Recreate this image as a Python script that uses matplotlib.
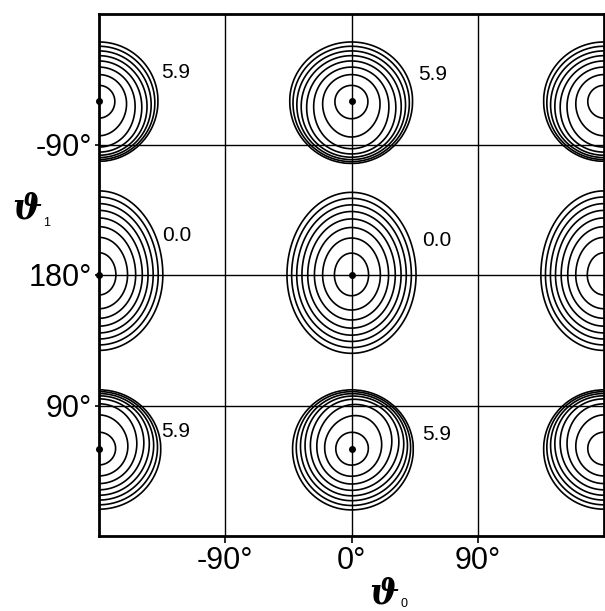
import numpy as np
import matplotlib
matplotlib.use('Agg')
import matplotlib.pyplot as plt

# ---- data ----
# positions of the minima (theta0, theta1) in degrees
min_t0 = [0, 0, 0, -180, -180, -180, 180, 180, 180]
min_t1 = [300, 180, 60, 300, 180, 60, 300, 180, 60]
# half extents of the outermost contour around each minimum (deg)
ext_left = [44, 46, 42, 42, 45, 44, 43, 45, 43]
ext_right = [43.5, 46, 44, 42, 45.5, 44, 43, 45, 43]
ext_down = [43, 54, 42, 41.5, 52, 41.5, 41.5, 52, 41.5]
ext_up = [40.7, 57, 40.7, 40.7, 58, 40.7, 40.7, 58, 40.7]
# direction (deg) towards which the outer contours crowd, and how strongly
crowd_dir = [-90, 90, 70, -90, 90, 90, -90, 90, 90]
crowd_amt = [0.45, 0.0, 0.45, 0.45, 0.0, 0.45, 0.45, 0.0, 0.45]
# contour levels (relative)
levels = [0.07, 0.20, 0.33, 0.46, 0.59, 0.72, 0.86, 1.0]
# energy labels
label_text = ['5.9', '0.0', '5.9', '5.9', '0.0', '5.9']
label_t0 = [58, 61, 60.5, -125, -124.5, -125]
label_t1 = [318, 204, 70, 320, 207.5, 72]
# marked minima (dots)
dot_t0 = [0, 0, 0, -180, -180, -180]
dot_t1 = [300, 180, 60, 300, 180, 60]
# ticks
xticks = [-90, 0, 90]
xticklabels = ['-90°', '0°', '90°']
yticks = [90, 180, 270]
yticklabels = ['90°', '180°', '-90°']

# ---- field ----
t0 = np.linspace(-180, 180, 721)
t1 = np.linspace(0, 360, 721)
T0, T1 = np.meshgrid(t0, t1)
Z = np.full(T0.shape, np.inf)
for i in range(len(min_t0)):
    dx = T0 - min_t0[i]
    dy = T1 - min_t1[i]
    u = np.where(dx < 0, dx / ext_left[i], dx / ext_right[i])
    v = np.where(dy < 0, dy / ext_down[i], dy / ext_up[i])
    r2 = u ** 2 + v ** 2
    ang = np.arctan2(v, u)
    w = ((1 + np.cos(ang - np.deg2rad(crowd_dir[i]))) / 2) ** 2
    g = r2 * (1 - 4 * crowd_amt[i] * w * r2 * (1 - r2))
    g = np.where(r2 < 1, g, r2)
    Z = np.minimum(Z, g)

fig = plt.figure(figsize=(6.05, 6.11), dpi=100)
ax = fig.add_axes([99 / 605, 75 / 611, 505 / 605, 522 / 611])
ax.contour(T0, T1, Z, levels=levels, colors='black', linewidths=1.2)

for v in xticks:
    ax.axvline(v, color='black', lw=1.0, zorder=1)
for v in yticks:
    ax.axhline(v, color='black', lw=1.0, zorder=1)

ax.plot(dot_t0, dot_t1, 'o', color='black', ms=4, clip_on=False, zorder=5)

for s, x, y in zip(label_text, label_t0, label_t1):
    ax.text(x, y, s, fontsize=15, family='Liberation Sans', ha='center', va='center')

ax.set_xlim(-180, 180)
ax.set_ylim(0, 360)
ax.set_xticks(xticks)
ax.set_xticklabels(xticklabels, family='Liberation Sans', fontsize=22)
ax.set_yticks(yticks)
ax.set_yticklabels(yticklabels, family='Liberation Sans', fontsize=22)
ax.tick_params(axis='x', direction='out', length=5, width=1.2, pad=2)
ax.tick_params(axis='y', direction='out', length=3, width=1.2, pad=2)
for sp in ax.spines.values():
    sp.set_linewidth(2)

# axis labels
fig.text(27 / 605, 1 - 208 / 611, 'ϑ', family='DejaVu Serif', weight='bold',
         style='italic', fontsize=25, ha='center', va='center')
fig.text(47 / 605, 1 - 223 / 611, '1', family='Liberation Sans', fontsize=9,
         ha='center', va='center')
fig.text(384 / 605, 1 - 593 / 611, 'ϑ', family='DejaVu Serif', weight='bold',
         style='italic', fontsize=25, ha='center', va='center')
fig.text(404 / 605, 1 - 604 / 611, '0', family='Liberation Sans', fontsize=9,
         ha='center', va='center')

fig.savefig('out.png', dpi=100)
